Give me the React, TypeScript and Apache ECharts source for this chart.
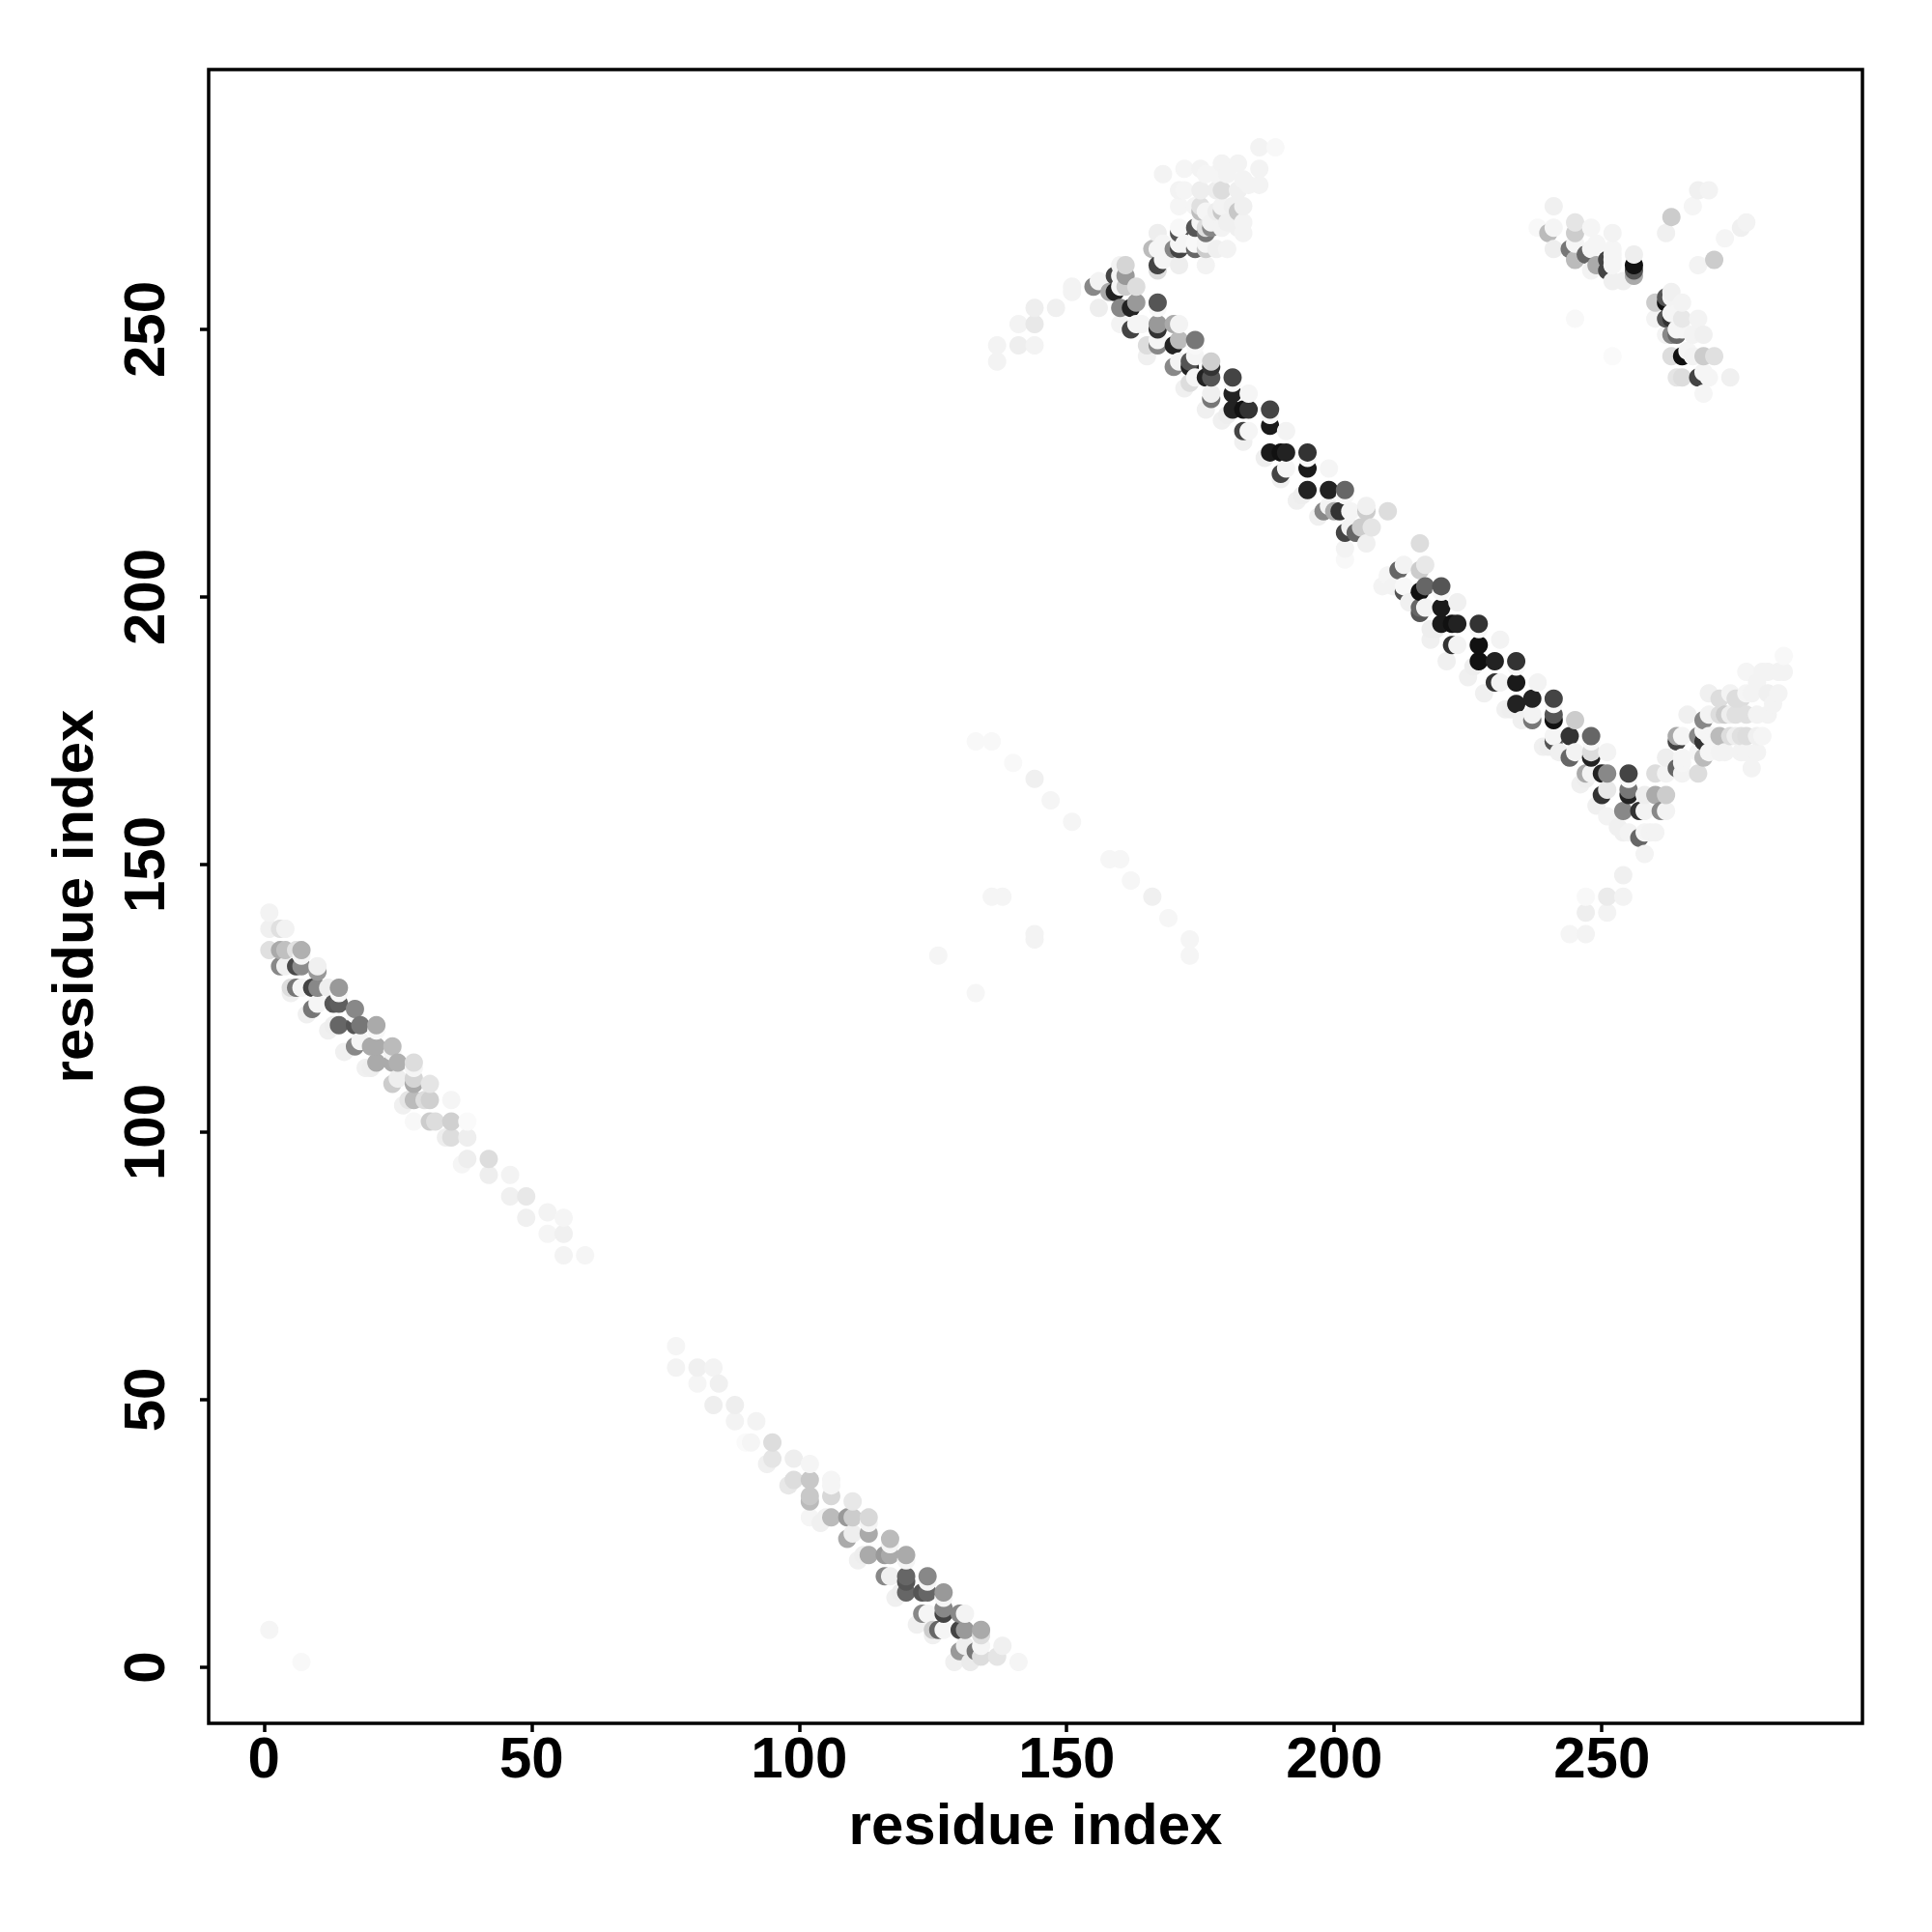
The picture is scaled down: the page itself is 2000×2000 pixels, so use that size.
import React, { useEffect, useRef } from "react";
import * as echarts from "echarts";

type P = [number, number, number];

const tickValues = [0, 50, 100, 150, 200, 250];
const axisTitle = "residue index";

const bandA: P[] = [
[1,141,243],[1,138,240],[3,138,224],[4,138,242],[1,134,224],[3,134,170],[4,134,192],[6,134,225],[7,134,176],
[3,131,136],[4,131,240],[6,131,74],[7,131,140],[10,130,153],[10,131,240],[5,127,221],[6,127,119],[7,127,245],
[9,127,68],[10,127,136],[12,127,238],[14,127,153],[9,123,119],[10,124,245],[13,124,85],[14,124,95],[17,123,136],
[13,120,238],[14,120,102],[17,120,85],[18,120,119],[21,120,170],[17,116,136],[18,117,245],[20,116,170],[21,116,170],
[24,116,187],[20,112,238],[21,113,170],[24,113,170],[25,113,176],[28,113,221],[24,109,204],[25,110,238],[28,109,170],
[28,110,213],[31,109,229],[27,106,229],[28,106,187],[30,106,221],[31,106,208],[35,106,245],[28,102,248],[31,102,204],
[32,102,221],[35,102,208],[38,102,250],[34,99,238],[35,99,221],[38,99,238],[38,95,238],[37,94,245],[42,95,221],
[42,92,238],[46,92,243],[46,88,240],[49,88,232],[49,84,240],[53,85,243],[56,84,245],[53,81,245],[56,81,240],[56,77,243],[60,77,245],
];

const bandB: P[] = [
[77,60,245],[77,56,243],[81,56,240],[84,56,243],[81,53,245],[85,53,240],[84,49,238],[88,49,238],[88,46,243],[92,46,243],
[90,42,250],[91,42,245],[95,42,221],[94,38,240],[95,39,229],[99,39,238],[102,38,245],[98,34,232],[99,35,221],[102,35,200],
[102,31,187],[102,32,200],[102,28,245],[106,35,245],[106,32,216],[105,28,240],[106,28,187],[110,31,232],[109,28,153],[110,28,204],
[113,28,216],[109,24,170],[110,25,238],[113,25,170],[117,24,187],[112,21,238],[113,21,170],[116,21,153],[117,21,170],[120,21,170],
[116,17,136],[117,17,240],[120,16,85],[120,17,102],[124,17,136],[119,14,238],[120,14,102],[123,14,85],[124,14,102],[127,14,153],
[123,10,136],[124,10,245],[127,10,68],[127,11,136],[130,10,136],[131,10,243],[125,7,204],[126,7,102],[127,7,245],[130,7,68],
[131,7,153],[134,7,170],[134,6,221],[130,3,153],[131,4,238],[133,3,119],[134,4,245],[134,2,221],[137,2,229],[138,4,240],[141,1,245],
];

const bandC: P[] = [
[137,244,243],[137,247,243],[141,247,238],[141,251,243],[144,247,243],[144,251,232],[144,254,238],[148,254,240],
[151,257,243],[151,258,243],[155,258,136],[156,254,238],[156,259,243],[158,257,170],[159,257,34],[159,260,68],[160,251,243],[160,254,136],[160,258,245],[160,260,245],[160,262,243],
[161,258,204],[161,260,153],[161,262,213],[162,250,68],[162,254,34],[163,258,221],[163,251,245],[163,255,153],[164,251,245],
[165,247,221],[166,265,187],[167,247,136],[167,248,245],[167,250,51],[167,251,153],[167,255,85],[167,261,221],[167,262,68],[167,265,245],[167,268,238],[168,279,243],
[170,243,136],[170,247,34],[170,251,170],[170,265,136],[171,244,243],[171,248,187],[171,251,243],[171,262,238],[171,265,68],[171,266,245],[171,268,85],[171,269,248],[171,273,245],[171,276,243],[172,280,245],
[173,240,221],[173,243,34],[173,244,85],[174,241,245],[174,248,119],[174,265,102],[174,266,248],[174,269,85],[175,272,190],[175,273,224],[175,276,238],[175,280,243],
[176,241,34],[176,265,204],[176,268,119],[176,269,221],[177,237,119],[177,238,240],[177,241,85],[177,243,51],[177,244,208],[177,269,136],[178,265,240],
[179,269,243],[179,272,200],[179,273,243],[179,276,221],[179,281,243],[181,235,34],[181,238,34],[181,241,68],[182,269,240],[182,272,200],[182,276,240],[182,281,243],[183,231,68],[183,235,17],[183,273,240],
[184,231,245],[184,235,51],[184,238,245],[186,277,243],[186,280,243],[186,284,243],[188,227,26],[188,232,26],[188,235,68],[189,284,248],
[190,223,68],[190,227,17],[191,224,245],[191,227,34],[191,231,243],[195,220,34],[195,224,26],[195,227,51],
[198,216,136],[199,217,243],[199,220,34],[199,224,245],[200,216,170],[201,216,51],[202,209,243],[202,207,248],[202,212,68],[202,220,102],
[203,213,243],[203,216,245],[204,212,102],[205,213,204],[206,210,240],[206,216,204],[206,217,240],[207,213,229],[210,216,221],
];

const bandD: P[] = [
[209,202,243],[210,204,245],[211,202,243],[213,201,85],[213,202,248],[212,205,102],[213,206,243],[216,201,17],[216,205,204],[217,202,102],[217,206,232],[216,210,221],
[216,197,85],[216,198,102],[217,198,243],[220,195,26],[220,198,26],[220,202,85],[218,194,238],[222,195,17],[223,195,34],[223,199,240],[227,195,51],
[222,191,51],[223,191,243],[227,188,17],[227,191,17],[231,192,243],[230,184,51],[230,188,34],[231,184,243],[234,180,34],[234,184,26],[234,188,51],
[237,177,119],[237,181,34],[238,184,243],[237,178,243],[241,173,85],[241,174,245],[241,177,17],[241,178,85],[241,181,68],[244,170,102],[244,174,51],[245,171,243],[245,177,204],
[247,167,170],[248,167,243],[248,170,34],[248,171,221],[248,174,102],[250,163,51],[250,167,34],[251,159,243],[251,164,232],[251,167,136],[251,171,243],
[254,156,240],[254,160,136],[255,156,243],[255,163,34],[255,164,119],[255,167,68],[257,155,102],[257,160,51],[258,152,243],[258,156,245],[258,160,243],[258,163,238],
[259,156,243],[260,163,170],[260,156,243],[260,167,221],[261,160,136],[262,160,243],[262,163,204],[262,167,243],[262,170,238],[254,148,240],
[264,168,102],[264,173,68],[264,174,170],[265,167,243],[265,169,245],[265,170,245],[265,174,245],[266,178,240],[268,167,221],[268,171,245],[268,174,136],[269,170,187],[269,173,51],[269,175,245],[269,177,136],
[270,171,245],[270,174,245],[270,178,243],[270,182,240],[271,174,245],[272,171,243],[272,174,187],[272,178,221],[272,181,221],[273,171,243],[273,178,204],[274,174,221],[274,178,238],[274,182,243],[275,174,238],[275,178,224],[275,181,221],
[276,171,243],[276,174,224],[276,181,221],[277,171,243],[277,174,221],[277,178,224],[277,182,245],[277,186,245],[278,168,243],[278,182,243],[279,171,243],[279,174,240],[279,178,243],[279,184,243],[280,174,245],[280,186,243],[281,178,243],[281,182,240],[281,186,243],[282,180,243],[283,182,243],[283,186,243],[284,186,243],[284,189,248],
];

const bandE: P[] = [
[238,269,248],[240,268,187],[241,265,238],[241,269,245],[241,273,240],[244,265,119],[245,263,187],[245,266,245],[245,268,204],[245,270,229],[247,264,102],[248,261,243],[248,265,245],[248,269,245],
[249,262,170],[249,266,245],[251,261,68],[251,263,68],[252,259,240],[252,262,245],[252,263,245],[252,264,245],[252,265,245],[252,268,243],[254,259,240],[256,260,170],[256,261,85],[256,262,17],[256,264,238],
[260,252,243],[260,255,204],[262,249,243],[262,252,85],[262,255,17],[262,256,85],[263,245,221],[263,249,136],[263,252,51],[263,253,245],[263,256,243],[263,257,240],[264,241,229],[264,249,102],[264,250,245],[264,253,245],
[265,241,221],[265,245,17],[265,250,245],[265,252,232],[265,255,243],[266,246,245],[267,245,243],[267,249,243],[268,241,68],[268,252,243],[269,238,245],[269,242,245],[269,245,204],[269,249,240],[270,241,245],[271,245,224],[274,241,240],
];

const rims: P[] = [
[167,254,248],[174,247,248],[181,240,248],[188,234,248],[195,226,248],[202,219,248],
[220,201,248],[227,194,248],[234,187,248],[241,180,248],[248,173,248],[255,166,248],
[180,234,238],[187,226,238],[194,219,238],[219,194,238],[226,187,238],[233,179,238],[240,172,238],[247,166,238],
[7,133,245],[14,126,248],[17,122,248],[21,119,248],[24,115,245],[28,112,245],
[106,34,245],[113,27,245],[117,23,245],[120,20,245],[124,16,245],[127,13,245],
[174,245,245],[168,263,245],[168,266,245],[172,266,245],[175,270,245],[176,266,245],[177,270,243],
[172,276,245],[174,273,245],[176,272,245],[176,279,245],[178,272,238],[178,276,238],[178,279,245],[180,270,240],[180,279,243],[181,273,240],[183,278,243],[184,277,243],
[176,262,243],[180,265,243],[183,268,243],[183,270,243],
];

const halos: P[] = [
[5,126,240],[8,122,240],[12,119,240],[15,115,240],[19,112,240],[26,105,240],
[104,27,240],[111,20,240],[118,13,240],[122,8,240],[125,6,240],[129,1,240],[132,1,235],
[165,245,240],[172,239,240],[176,235,240],[179,233,240],[183,229,240],[190,222,240],[193,218,240],[197,215,240],
[214,199,240],[218,192,240],[221,188,240],[225,185,240],[228,182,240],[232,179,240],[235,177,240],[239,172,240],[242,171,240],[246,165,240],[249,161,240],[253,157,240],
];

const scattered: P[] = [
[1,7,245],[7,1,248],[126,133,245],[133,126,246],[133,173,248],[136,173,248],[136,144,245],[138,144,245],[140,169,248],[144,166,240],[144,137,243],[144,136,243],
[147,162,245],[151,158,245],[158,151,246],[160,151,246],[162,147,246],[166,144,240],[169,140,246],[173,136,245],[173,133,245],
[244,137,245],[247,137,243],[247,141,238],[247,144,248],[251,141,243],[251,144,235],[254,144,243],
[245,252,248],[252,245,250],[262,268,240],[263,271,204],[267,273,245],[268,276,240],[270,276,243],[268,262,243],[271,263,204],[273,267,245],[276,269,240],[277,270,243],
];

const points: P[] = [...bandA, ...bandB, ...bandC, ...bandD, ...bandE, ...rims, ...halos, ...scattered].sort(
  (a, b) => a[0] - b[0] || a[1] - b[1]
);

const font = "'Liberation Sans', Arial, sans-serif";

export default function App() {
  const ref = useRef<HTMLDivElement>(null);
  useEffect(() => {
    const chart = echarts.init(ref.current!, undefined, { renderer: "svg" });
    const axisCommon = {
      type: "value" as const,
      splitLine: { show: false },
      axisLine: { show: false, onZero: false },
      axisTick: { show: true, length: 9, customValues: tickValues, lineStyle: { color: "#000", width: 3.5 } },
      name: axisTitle,
      nameLocation: "middle" as const,
      nameTextStyle: { color: "#000", fontFamily: font, fontWeight: "bold" as const, fontSize: 60 },
    };
    chart.setOption({
      animation: false,
      backgroundColor: "#fff",
      grid: { left: 216, right: 72, top: 72, bottom: 216, show: true, borderColor: "#000", borderWidth: 3.5, backgroundColor: "transparent" },
      xAxis: {
        ...axisCommon,
        min: -10.34,
        max: 298.7,
        nameGap: 74,
        axisLabel: { customValues: tickValues, color: "#000", fontFamily: font, fontWeight: "bold", fontSize: 60, margin: 5 },
      },
      yAxis: {
        ...axisCommon,
        min: -10.47,
        max: 298.55,
        nameGap: 111,
        axisLabel: { customValues: tickValues, rotate: 90, color: "#000", fontFamily: font, fontWeight: "bold", fontSize: 60, margin: 37, align: "center", verticalAlign: "bottom" },
      },
      series: [
        {
          type: "scatter",
          symbol: "circle",
          symbolSize: 19,
          data: points,
          clip: true,
          large: false,
          progressive: 0,
          itemStyle: {
            opacity: 1,
            color: (p: any) => {
              const g = p.value[2];
              return `rgb(${g},${g},${g})`;
            },
          },
        },
      ],
    });
    return () => chart.dispose();
  }, []);
  return <div ref={ref} style={{ position: "absolute", left: 0, top: 0, width: 2000, height: 2000 }} />;
}
